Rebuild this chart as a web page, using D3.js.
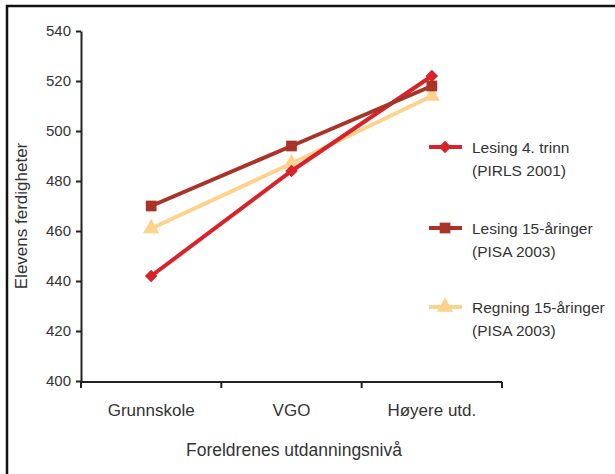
<!DOCTYPE html>
<html>
<head>
<meta charset="utf-8">
<script src="https://cdn.jsdelivr.net/npm/d3@7"></script>
<style>
  html, body { margin: 0; padding: 0; background: #fff; }
  svg { display: block; font-family: "Liberation Sans", Arial, sans-serif; }
</style>
</head>
<body>
<svg id="chart" width="615" height="474"></svg>
<script>
// Education level of parents (x categories)
const categories = ["Grunnskole", "VGO", "Høyere utd."];

// Student skill scores per series
const lesing4 = [442, 484, 522];
const lesing15 = [470, 494, 518];
const regning15 = [461, 487, 514];

const seriesNames = [
  ["Lesing 4. trinn", "(PIRLS 2001)"],
  ["Lesing 15-åringer", "(PISA 2003)"],
  ["Regning 15-åringer", "(PISA 2003)"]
];

const yTicks = [400, 420, 440, 460, 480, 500, 520, 540];

const series = [
  { name: seriesNames[0], values: lesing4, color: "#d8232a", shape: d3.symbolDiamond2, size: 100 },
  { name: seriesNames[1], values: lesing15, color: "#a83326", shape: d3.symbolSquare, size: 115 },
  { name: seriesNames[2], values: regning15, color: "#fdd28a", shape: d3.symbolTriangle, size: 115 }
];

const textColor = "#333";
const svg = d3.select("#chart");

// Frame along the top and left
svg.append("path")
  .attr("d", "M7,474 L7,6 L615,6")
  .attr("fill", "none")
  .attr("stroke", "#111")
  .attr("stroke-width", 2.5);

const x = d3.scaleBand().domain(categories).range([81, 502]);
const y = d3.scaleLinear().domain([400, 540]).range([381, 31]);

// Y axis
const yAxis = svg.append("g")
  .attr("transform", "translate(81,0)")
  .call(d3.axisLeft(y).tickValues(yTicks).tickSize(5).tickPadding(5).tickSizeOuter(0));
yAxis.select(".domain").attr("stroke", "#222").attr("stroke-width", 2);
yAxis.selectAll(".tick line").attr("stroke", "#222").attr("stroke-width", 2);
yAxis.selectAll(".tick text").attr("font-size", 15).attr("fill", textColor)
  .attr("font-family", "Liberation Sans, Arial, sans-serif");

// X axis with tick marks at band boundaries
const xAxisG = svg.append("g").attr("transform", "translate(0,382)");
xAxisG.append("line")
  .attr("x1", x.range()[0]).attr("x2", x.range()[1])
  .attr("stroke", "#222").attr("stroke-width", 2);
const bounds = categories.map(c => x(c)).concat([x.range()[1]]);
xAxisG.selectAll("line.tk").data(bounds).join("line")
  .attr("class", "tk")
  .attr("x1", d => d).attr("x2", d => d)
  .attr("y1", 0).attr("y2", 6)
  .attr("stroke", "#222").attr("stroke-width", 2);
xAxisG.selectAll("text").data(categories).join("text")
  .attr("x", d => x(d) + x.bandwidth() / 2)
  .attr("y", 34)
  .attr("text-anchor", "middle")
  .attr("font-size", 17)
  .attr("fill", textColor)
  .text(d => d);

// Axis titles
svg.append("text")
  .attr("x", 294).attr("y", 456)
  .attr("text-anchor", "middle")
  .attr("font-size", 17.5)
  .attr("fill", textColor)
  .text("Foreldrenes utdanningsnivå");

svg.append("text")
  .attr("transform", "translate(27,216) rotate(-90)")
  .attr("text-anchor", "middle")
  .attr("font-size", 17)
  .attr("fill", textColor)
  .text("Elevens ferdigheter");

// Lines and markers
const line = d3.line()
  .x((d, i) => x(categories[i]) + x.bandwidth() / 2)
  .y(d => y(d));

const plot = svg.append("g");
[2, 0, 1].forEach(k => {
  const s = series[k];
  plot.append("path")
    .datum(s.values)
    .attr("d", line)
    .attr("fill", "none")
    .attr("stroke", s.color)
    .attr("stroke-width", 4);
  plot.selectAll(null).data(s.values).join("path")
    .attr("transform", (d, i) => `translate(${x(categories[i]) + x.bandwidth() / 2},${y(d)})`)
    .attr("d", d3.symbol().type(s.shape).size(s.size))
    .attr("fill", s.color);
});

// Legend
const legendY = [147, 228, 307];
const legend = svg.append("g");
series.forEach((s, i) => {
  const g = legend.append("g").attr("transform", `translate(0,${legendY[i]})`);
  g.append("line")
    .attr("x1", 429).attr("x2", 462)
    .attr("stroke", s.color).attr("stroke-width", 4);
  g.append("path")
    .attr("transform", "translate(445,0)")
    .attr("d", d3.symbol().type(s.shape).size(s.size))
    .attr("fill", s.color);
  g.append("text")
    .attr("x", 472).attr("y", 6)
    .attr("font-size", 15.5).attr("fill", textColor)
    .text(s.name[0]);
  g.append("text")
    .attr("x", 472).attr("y", 29)
    .attr("font-size", 15.5).attr("fill", textColor)
    .text(s.name[1]);
});
</script>
</body>
</html>
